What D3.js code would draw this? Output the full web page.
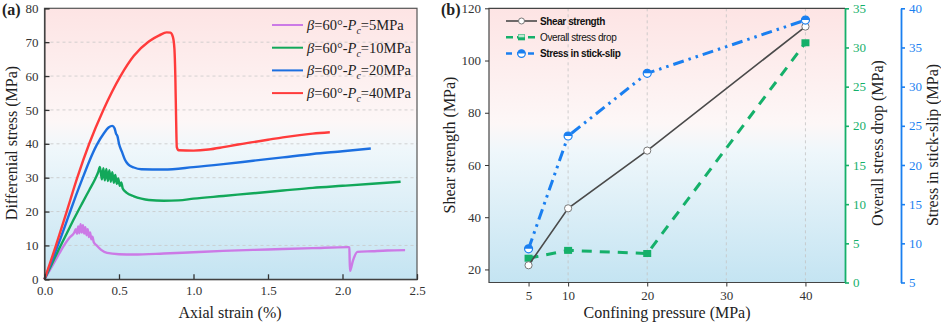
<!DOCTYPE html>
<html lang="en">
<head>
<meta charset="UTF-8">
<title>Stress curves and stick-slip</title>
<script src="https://d3js.org/d3.v7.min.js"></script>
<style>
  body { margin: 0; background: #fff; }
  svg text { font-family: "Liberation Serif", "Times New Roman", serif; }
  .leg2 text { font-family: "Liberation Sans", Arial, sans-serif; font-size: 10px; letter-spacing: -0.4px; }
</style>
</head>
<body>
<script>
// ---- panel (a) data: [axial strain %, differential stress MPa]
const curve5 = [[0,0],[0.05,3.8],[0.1,7.7],[0.14,10.6],[0.17,12.4],[0.2,13.8],[0.21,14.8],[0.218,13.4],[0.226,15.6],[0.234,13.6],[0.242,16.3],[0.25,13.8],[0.258,16],[0.266,13.5],[0.274,15.4],[0.282,13],[0.29,14.8],[0.298,12.5],[0.306,13.8],[0.314,11.8],[0.322,12.6],[0.33,11],[0.35,10],[0.38,8.7],[0.42,7.8],[0.5,7.4],[0.6,7.3],[0.8,7.6],[1.0,8],[1.2,8.4],[1.5,8.8],[1.8,9.2],[2.04,9.5],[2.046,9.4],[2.05,2.4],[2.07,5.5],[2.1,8.1],[2.2,8.3],[2.3,8.5],[2.42,8.6]];
const curve10 = [[0,0],[0.05,4.6],[0.1,9.2],[0.15,13.6],[0.2,18],[0.25,22.2],[0.3,26.3],[0.34,29.6],[0.36,31.6],[0.372,33.2],[0.385,29.5],[0.395,32.8],[0.405,29.2],[0.415,32.6],[0.425,29],[0.435,32.2],[0.445,28.8],[0.455,31.6],[0.465,28.5],[0.475,30.8],[0.485,28.2],[0.495,29.8],[0.505,27.6],[0.515,28.6],[0.525,26.8],[0.55,25.6],[0.6,24.5],[0.65,23.8],[0.7,23.4],[0.8,23.2],[0.9,23.3],[1.0,23.8],[1.2,24.6],[1.4,25.4],[1.6,26.2],[1.8,27],[2.0,27.6],[2.2,28.2],[2.39,28.8]];
const curve20 = [[0,0],[0.05,5.6],[0.1,11.2],[0.16,18.5],[0.2,23.4],[0.25,29.2],[0.3,34.8],[0.35,39.6],[0.4,43.2],[0.43,44.8],[0.455,45.3],[0.47,44.6],[0.48,43],[0.49,42.2],[0.5,40],[0.52,37.6],[0.54,35.3],[0.56,34],[0.6,33],[0.65,32.5],[0.8,32.4],[1.0,33.1],[1.2,34],[1.4,35],[1.6,36],[1.8,37],[2.0,37.8],[2.19,38.6]];
const curve40 = [[0,0],[0.077,10],[0.149,20],[0.22,30],[0.3,40],[0.395,50],[0.51,60],[0.6,66],[0.7,70.2],[0.77,72],[0.82,72.9],[0.845,72.8],[0.862,71.5],[0.872,68],[0.878,60],[0.883,48],[0.888,39],[0.9,38.1],[1.0,38],[1.1,38.3],[1.2,39],[1.3,39.8],[1.4,40.5],[1.5,41.2],[1.6,41.9],[1.7,42.5],[1.8,43],[1.915,43.4]];
const seriesA = [
  {pc: "5MPa", color: "#cc7ae6", data: curve5},
  {pc: "10MPa", color: "#12a85a", data: curve10},
  {pc: "20MPa", color: "#1c6fe0", data: curve20},
  {pc: "40MPa", color: "#ff3b3b", data: curve40}
];
const ticksA_x = [0, 0.5, 1.0, 1.5, 2.0, 2.5];
const ticksA_y = [0, 10, 20, 30, 40, 50, 60, 70, 80];

// ---- panel (b) data
const pressure = [5, 10, 20, 40];
const shearStrength = [21.6, 43.4, 65.5, 113];
const overallDrop = [3.1, 4.1, 3.7, 30.6];
const stickSlip = [9.3, 23.7, 31.7, 38.5];
const ticksB_x = [5, 10, 20, 30, 40];

const serif = '"Liberation Serif", "Times New Roman", serif';
const svg = d3.select("body").append("svg").attr("width", 941).attr("height", 324);
const defs = svg.append("defs");
const grad = defs.append("linearGradient").attr("id", "bg").attr("x1", 0).attr("y1", 0).attr("x2", 0).attr("y2", 1);
[[0, "#fde4e4"], [0.42, "#fdf7f7"], [0.52, "#eff7fb"], [1, "#c4e4f2"]].forEach(s =>
  grad.append("stop").attr("offset", s[0]).attr("stop-color", s[1]));

function styleTicks(g, color) {
  g.attr("font-family", serif).attr("font-size", 13);
  g.selectAll(".tick text").style("font-family", serif).attr("fill", color || "#333");
}

// ================= panel (a) =================
const xA = d3.scaleLinear().domain([0, 2.5]).range([44.5, 417]);
const yA = d3.scaleLinear().domain([0, 80]).range([279.3, 8.3]);

svg.append("rect").attr("x", xA(0)).attr("y", yA(80))
  .attr("width", xA(2.5) - xA(0)).attr("height", yA(0) - yA(80)).attr("fill", "url(#bg)");

// horizontal dashed grid
svg.append("g").selectAll("line").data(ticksA_y.slice(1, -1)).join("line")
  .attr("x1", xA(0)).attr("x2", xA(2.5)).attr("y1", d => yA(d)).attr("y2", d => yA(d))
  .attr("stroke", "#c8c8c8").attr("stroke-width", 0.8).attr("stroke-dasharray", "3,3");

const lineA = d3.line().x(d => xA(d[0])).y(d => yA(d[1])).curve(d3.curveMonotoneX);
svg.append("g").selectAll("path").data(seriesA).join("path")
  .attr("d", d => lineA(d.data)).attr("fill", "none")
  .attr("stroke", d => d.color).attr("stroke-width", 2.4).attr("stroke-linejoin", "round");

// frame
svg.append("rect").attr("x", xA(0)).attr("y", yA(80))
  .attr("width", xA(2.5) - xA(0)).attr("height", yA(0) - yA(80))
  .attr("fill", "none").attr("stroke", "#555").attr("stroke-width", 1.2);

svg.append("g").attr("transform", `translate(0,${yA(0)})`)
  .call(d3.axisBottom(xA).tickValues(ticksA_x).tickFormat(d3.format(".1f")).tickSize(-5).tickPadding(6))
  .call(g => g.select(".domain").attr("stroke", "#333"))
  .call(g => g.selectAll(".tick line").attr("stroke", "#333").attr("stroke-width", 1.3))
  .call(g => styleTicks(g));
svg.append("g").attr("transform", `translate(${xA(0)},0)`)
  .call(d3.axisLeft(yA).tickValues(ticksA_y).tickSize(-5).tickPadding(6))
  .call(g => g.select(".domain").attr("stroke", "#333"))
  .call(g => g.selectAll(".tick line").attr("stroke", "#333").attr("stroke-width", 1.3))
  .call(g => styleTicks(g));

svg.append("text").attr("x", 230).attr("y", 318).attr("text-anchor", "middle")
  .attr("font-size", 16).attr("fill", "#222").text("Axial strain (%)");
svg.append("text").attr("transform", "translate(17,143) rotate(-90)").attr("text-anchor", "middle")
  .attr("font-size", 16).attr("fill", "#222").text("Differenial stress (MPa)");
svg.append("text").attr("x", 2).attr("y", 15).attr("font-size", 16).attr("font-weight", "bold")
  .attr("fill", "#222").text("(a)");

// legend (a)
const legA = svg.append("g");
seriesA.forEach((s, i) => {
  const y = 25 + i * 22.7;
  legA.append("line").attr("x1", 272).attr("x2", 303).attr("y1", y).attr("y2", y)
    .attr("stroke", s.color).attr("stroke-width", 2);
  const t = legA.append("text").attr("x", 307).attr("y", y + 5).attr("font-size", 14.5).attr("fill", "#222");
  t.append("tspan").attr("font-style", "italic").text("β");
  t.append("tspan").text("=60°-");
  t.append("tspan").attr("font-style", "italic").text("P");
  t.append("tspan").attr("font-style", "italic").attr("font-size", 10).attr("dy", 4).text("c");
  t.append("tspan").attr("dy", -4).text("=" + s.pc);
});

// ================= panel (b) =================
const xB = d3.scaleLinear().domain([0, 45]).range([489, 845]);
const yL = d3.scaleLinear().domain([15, 120]).range([282.5, 8.3]);
const yG = d3.scaleLinear().domain([0, 35]).range([282.5, 8.3]);
const yS = d3.scaleLinear().domain([5, 40]).range([282.5, 8.3]);
const cGreen = "#15b06a", cBlue = "#1a7ff0", cGray = "#4a4a4a";

svg.append("rect").attr("x", xB(0)).attr("y", yL(120))
  .attr("width", xB(45) - xB(0)).attr("height", yL(15) - yL(120)).attr("fill", "url(#bg)");

svg.append("g").selectAll("line").data([10, 20, 30, 40]).join("line")
  .attr("x1", d => xB(d)).attr("x2", d => xB(d)).attr("y1", yL(120)).attr("y2", yL(15))
  .attr("stroke", "#c4c4c4").attr("stroke-width", 0.8).attr("stroke-dasharray", "3,3");

// overall stress drop (green dashed)
const ptsG = pressure.map((p, i) => [p, overallDrop[i]]);
svg.append("path").attr("d", d3.line().x(d => xB(d[0])).y(d => yG(d[1]))(ptsG))
  .attr("fill", "none").attr("stroke", cGreen).attr("stroke-width", 3).attr("stroke-dasharray", "10,8");
svg.append("g").selectAll("rect").data(ptsG).join("rect")
  .attr("x", d => xB(d[0]) - 4).attr("y", d => yG(d[1]) - 3.5).attr("width", 8).attr("height", 7)
  .attr("fill", cGreen);

// shear strength (gray solid)
const ptsS = pressure.map((p, i) => [p, shearStrength[i]]);
svg.append("path").attr("d", d3.line().x(d => xB(d[0])).y(d => yL(d[1]))(ptsS))
  .attr("fill", "none").attr("stroke", cGray).attr("stroke-width", 1.6);
svg.append("g").selectAll("circle").data(ptsS).join("circle")
  .attr("cx", d => xB(d[0])).attr("cy", d => yL(d[1])).attr("r", 3.6)
  .attr("fill", "#fff").attr("stroke", "#777").attr("stroke-width", 1);

// stress in stick-slip (blue dash-dot-dot)
const ptsB = pressure.map((p, i) => [p, stickSlip[i]]);
svg.append("path").attr("d", d3.line().x(d => xB(d[0])).y(d => yS(d[1]))(ptsB))
  .attr("fill", "none").attr("stroke", cBlue).attr("stroke-width", 3)
  .attr("stroke-dasharray", "11,5,2.5,5,2.5,5");
function halfMarker(g, x, y, r) {
  g.append("circle").attr("cx", x).attr("cy", y).attr("r", r)
    .attr("fill", "#fff").attr("stroke", cBlue).attr("stroke-width", 1.2);
  g.append("path").attr("d", `M${x - r},${y} A${r},${r} 0 0 1 ${x + r},${y} Z`).attr("fill", cBlue);
}
const mB = svg.append("g");
ptsB.forEach(d => halfMarker(mB, xB(d[0]), yS(d[1]), 4));

// frame (left, top, bottom)
svg.append("path").attr("d", `M${xB(45)},${yL(120)} H${xB(0)} V${yL(15)} H${xB(45)}`)
  .attr("fill", "none").attr("stroke", "#444").attr("stroke-width", 1.2);

svg.append("g").attr("transform", `translate(0,${yL(15)})`)
  .call(d3.axisBottom(xB).tickValues(ticksB_x).tickSize(4).tickPadding(4))
  .call(g => g.select(".domain").remove())
  .call(g => g.selectAll(".tick line").attr("stroke", "#333"))
  .call(g => styleTicks(g));
svg.append("g").attr("transform", `translate(${xB(0)},0)`)
  .call(d3.axisLeft(yL).tickValues([20, 40, 60, 80, 100, 120]).tickSize(4).tickPadding(4))
  .call(g => g.select(".domain").remove())
  .call(g => g.selectAll(".tick line").attr("stroke", "#333"))
  .call(g => styleTicks(g));

svg.append("g").attr("transform", `translate(${xB(45)},0)`)
  .call(d3.axisRight(yG).tickValues([0, 5, 10, 15, 20, 25, 30, 35]).tickSize(4).tickSizeOuter(0).tickPadding(4))
  .call(g => g.select(".domain").attr("stroke", cGreen).attr("stroke-width", 1.8))
  .call(g => g.selectAll(".tick line").attr("stroke", cGreen).attr("stroke-width", 1.6))
  .call(g => styleTicks(g, cGreen));
svg.append("g").attr("transform", "translate(901,0)")
  .call(d3.axisRight(yS).tickValues([5, 10, 15, 20, 25, 30, 35, 40]).tickSize(4).tickSizeOuter(0).tickPadding(4))
  .call(g => g.select(".domain").attr("stroke", cBlue).attr("stroke-width", 1.8))
  .call(g => g.selectAll(".tick line").attr("stroke", cBlue).attr("stroke-width", 1.6))
  .call(g => styleTicks(g, cBlue));

svg.append("text").attr("x", 667).attr("y", 318).attr("text-anchor", "middle")
  .attr("font-size", 16).attr("fill", "#222").text("Confining pressure (MPa)");
svg.append("text").attr("transform", "translate(455,145) rotate(-90)").attr("text-anchor", "middle")
  .attr("font-size", 16).attr("fill", "#222").text("Shear strength (MPa)");
svg.append("text").attr("transform", "translate(883,143) rotate(-90)").attr("text-anchor", "middle")
  .attr("font-size", 16).attr("fill", "#222").text("Overall stress drop (MPa)");
svg.append("text").attr("transform", "translate(938,145) rotate(-90)").attr("text-anchor", "middle")
  .attr("font-size", 16).attr("fill", "#222").text("Stress in stick-slip (MPa)");
svg.append("text").attr("x", 441).attr("y", 15).attr("font-size", 16).attr("font-weight", "bold")
  .attr("fill", "#222").text("(b)");

// legend (b)
const legB = svg.append("g").attr("class", "leg2");
const legItems = [
  {label: "Shear strength", bold: true},
  {label: "Overall stress drop", bold: false},
  {label: "Stress in stick-slip", bold: true}
];
legItems.forEach((it, i) => {
  const y = 21 + i * 16.3;
  if (i === 0) {
    legB.append("line").attr("x1", 506).attr("x2", 537).attr("y1", y).attr("y2", y).attr("stroke", cGray).attr("stroke-width", 1.6);
    legB.append("circle").attr("cx", 521.5).attr("cy", y).attr("r", 3).attr("fill", "#fff").attr("stroke", "#777");
  } else if (i === 1) {
    legB.append("line").attr("x1", 506).attr("x2", 537).attr("y1", y).attr("y2", y).attr("stroke", cGreen)
      .attr("stroke-width", 2.5).attr("stroke-dasharray", "7,4");
    legB.append("rect").attr("x", 518).attr("y", y - 3).attr("width", 7).attr("height", 6).attr("fill", cGreen);
    legB.append("rect").attr("x", 518.5).attr("y", y - 2.5).attr("width", 6).attr("height", 2.5).attr("fill", "#bfe9d2");
  } else {
    legB.append("line").attr("x1", 506).attr("x2", 537).attr("y1", y).attr("y2", y).attr("stroke", cBlue)
      .attr("stroke-width", 2.5).attr("stroke-dasharray", "6,5");
    halfMarker(legB, 521.5, y, 3.8);
  }
  legB.append("text").attr("x", 540).attr("y", y + 3.5).attr("fill", "#111")
    .attr("font-weight", it.bold ? "bold" : "normal").text(it.label);
});
</script>
</body>
</html>
